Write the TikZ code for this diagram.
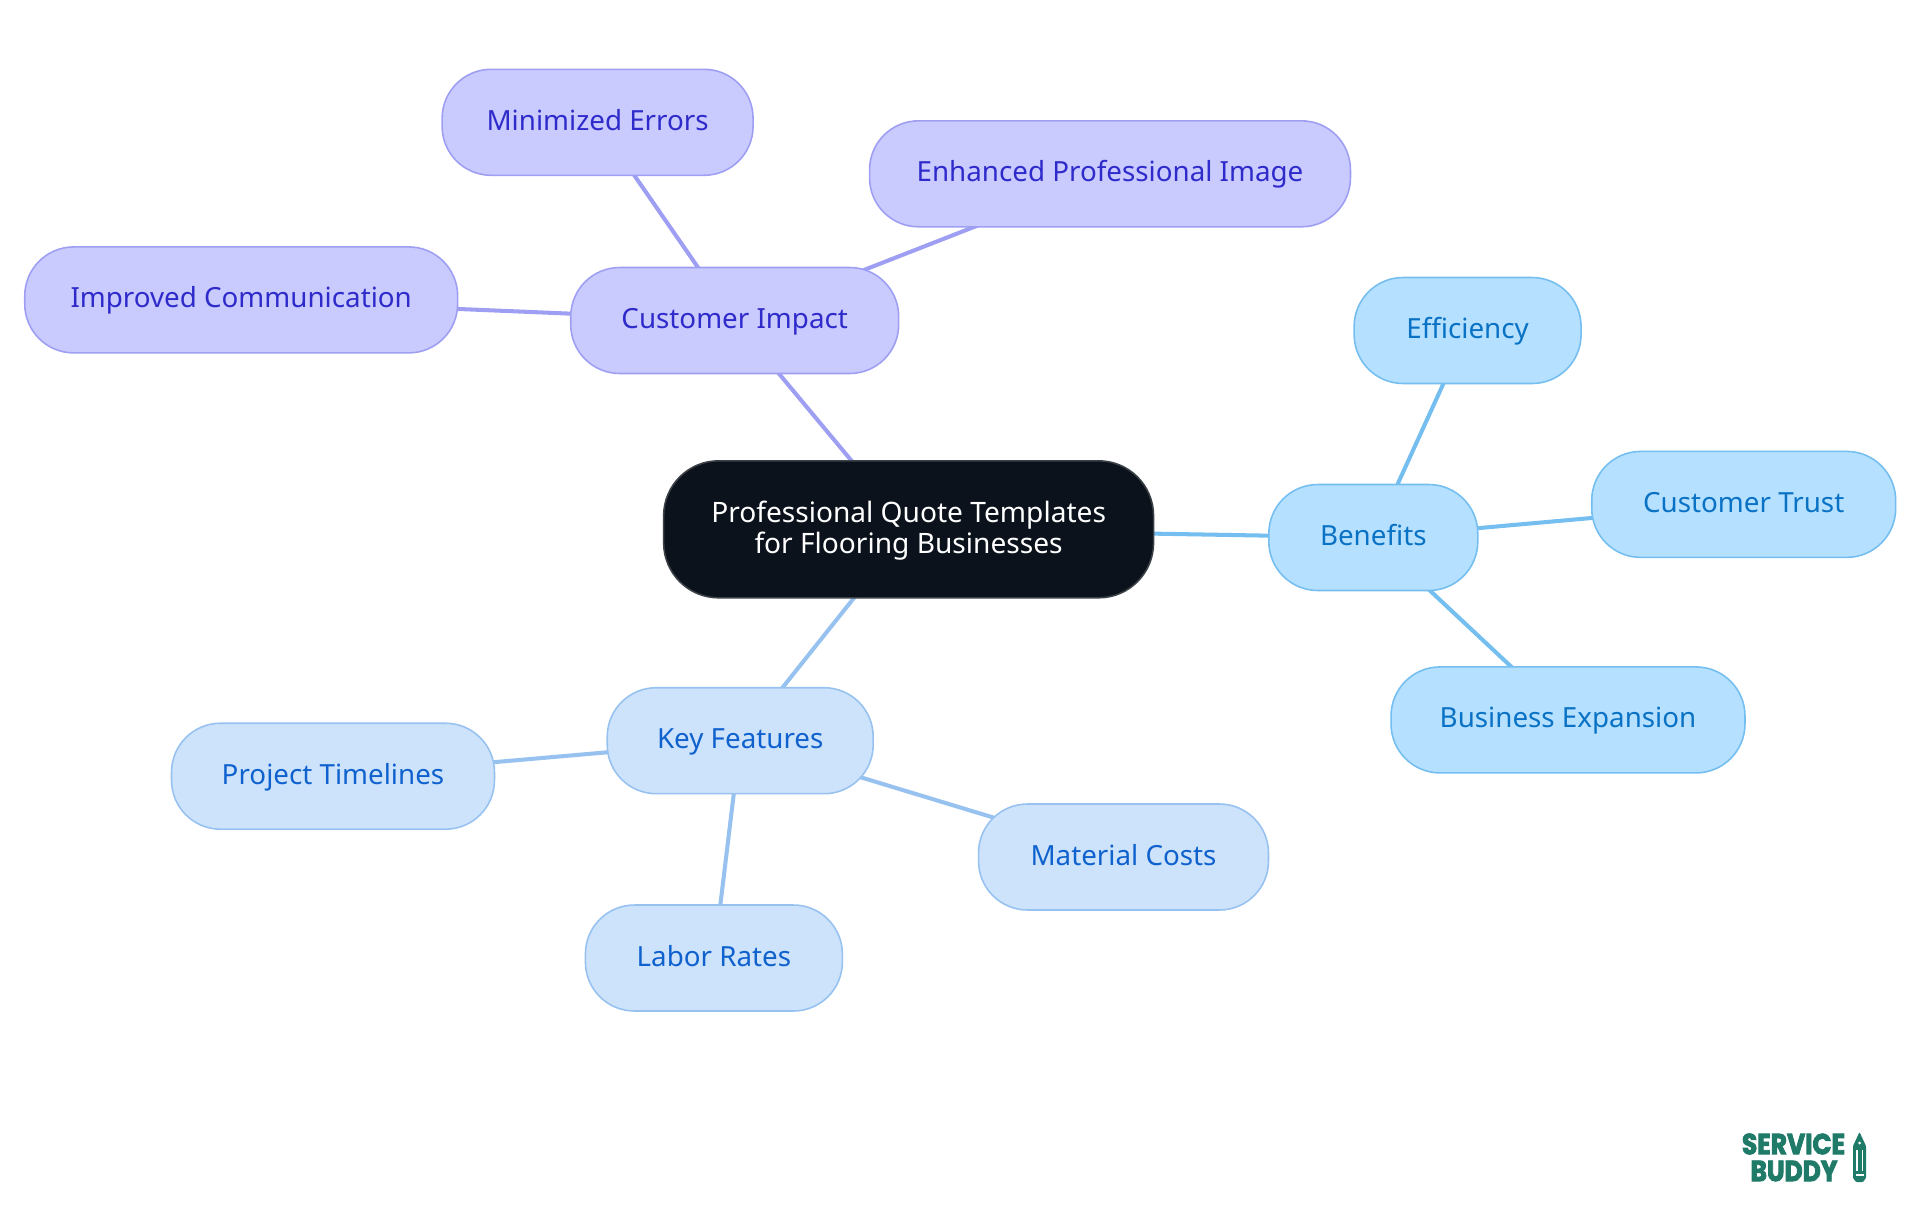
\documentclass[tikz,border=0pt]{standalone}
\usepackage{fontspec}
\setmainfont{Noto Sans}
\newfontfamily\logofont[FakeBold=3,FakeStretch=0.86]{Poppins}
\usetikzlibrary{backgrounds}
\definecolor{rootfill}{HTML}{0B121B}
\definecolor{rootline}{HTML}{3C4148}
\definecolor{impactfill}{HTML}{C9CAFE}
\definecolor{impactline}{HTML}{9E9FF3}
\definecolor{impacttext}{HTML}{2F2BCB}
\definecolor{benefitfill}{HTML}{B5E0FF}
\definecolor{benefitline}{HTML}{75BEF0}
\definecolor{benefittext}{HTML}{0A72C4}
\definecolor{featurefill}{HTML}{CDE3FC}
\definecolor{featureline}{HTML}{97C2F0}
\definecolor{featuretext}{HTML}{0F62CE}
\definecolor{logogreen}{HTML}{1F7A68}
\tikzset{
	pill/.style={rounded corners=0.98cm, minimum height=2.12cm, inner sep=0pt, outer sep=0pt, line width=0.9pt, text height=12.5pt, text depth=3.3pt, font=\fontsize{15.8}{18}\selectfont},
	impact/.style={pill, draw=impactline, fill=impactfill, text=impacttext},
	benefit/.style={pill, draw=benefitline, fill=benefitfill, text=benefittext},
	feature/.style={pill, draw=featureline, fill=featurefill, text=featuretext},
	impactlink/.style={draw=impactline, line width=2.3pt},
	benefitlink/.style={draw=benefitline, line width=2.3pt},
	featurelink/.style={draw=featureline, line width=2.3pt},
	logotext/.style={inner sep=0pt, text=logogreen, font=\logofont\bfseries\fontsize{16.5}{16.5}\selectfont},
}
\begin{document}
\begin{tikzpicture}[x=0.02cm, y=-0.02cm]
	\useasboundingbox (0,0) rectangle (1920,1215);

	% Central
	\node[rounded corners=1.1cm, minimum width=9.8cm, minimum height=2.74cm, inner sep=0pt, outer sep=0pt, line width=0.9pt, draw=rootline, fill=rootfill, text=white, align=center, text depth=2.5pt, font=\fontsize{16}{17.4}\selectfont] (root) at (908.6,529.3) {Professional Quote Templates\\for Flooring Businesses};

	% Customer Impact
	\node[impact, minimum width=6.56cm] (cimpact) at (734.7,320.5) {Customer Impact};
	\node[impact, minimum width=6.22cm] (errors) at (597.6,122.3) {Minimized Errors};
	\node[impact, minimum width=9.62cm] (image) at (1110,173.8) {Enhanced Professional Image};
	\node[impact, minimum width=8.66cm] (comm) at (241.2,299.9) {Improved Communication};

	% Benefits
	\node[benefit, minimum width=4.18cm] (benefits) at (1373.3,537.5) {Benefits};
	\node[benefit, minimum width=4.54cm] (effic) at (1467.6,330.5) {Efficiency};
	\node[benefit, minimum width=6.08cm] (trust) at (1743.7,504.4) {Customer Trust};
	\node[benefit, minimum width=7.08cm] (expansion) at (1568,719.9) {Business Expansion};

	% Key Features
	\node[feature, minimum width=5.32cm] (kfeatures) at (740.2,740.7) {Key Features};
	\node[feature, minimum width=6.46cm] (timelines) at (333,776.2) {Project Timelines};
	\node[feature, minimum width=5.14cm] (labor) at (713.9,958) {Labor Rates};
	\node[feature, minimum width=5.8cm] (material) at (1123.5,857) {Material Costs};

	% Ligacoes
	\begin{scope}[on background layer]
		\draw[impactlink] (root.center) to (cimpact.center);
		\draw[impactlink] (cimpact.center) to (errors.center);
		\draw[impactlink] (cimpact.center) to (image.center);
		\draw[impactlink] (cimpact.center) to (comm.center);
		\draw[benefitlink] (root.center) to (benefits.center);
		\draw[benefitlink] (benefits.center) to (effic.center);
		\draw[benefitlink] (benefits.center) to (trust.center);
		\draw[benefitlink] (benefits.center) to (expansion.center);
		\draw[featurelink] (root.center) to (kfeatures.center);
		\draw[featurelink] (kfeatures.center) to (timelines.center);
		\draw[featurelink] (kfeatures.center) to (labor.center);
		\draw[featurelink] (kfeatures.center) to (material.center);
	\end{scope}

	% Logo
	\node[logotext] (logotop) at (1793.5,1144) {SERVICE};
	\node[logotext] (logobottom) at (1794,1171) {BUDDY};
	\fill[logogreen, rounded corners=0.5pt] (1853,1146) -- (1859.5,1132) -- (1866,1146) -- (1866,1178) -- (1863,1182) -- (1856,1182) -- (1853,1178) -- cycle;
	\fill[white] (1856,1150) rectangle (1857.5,1171);
	\fill[white] (1861.5,1150) rectangle (1863,1171);
	\fill[white] (1855.5,1174) rectangle (1863.5,1175.5);
	\fill[white] (1859.5,1143) circle (1.5);
\end{tikzpicture}
\end{document}
